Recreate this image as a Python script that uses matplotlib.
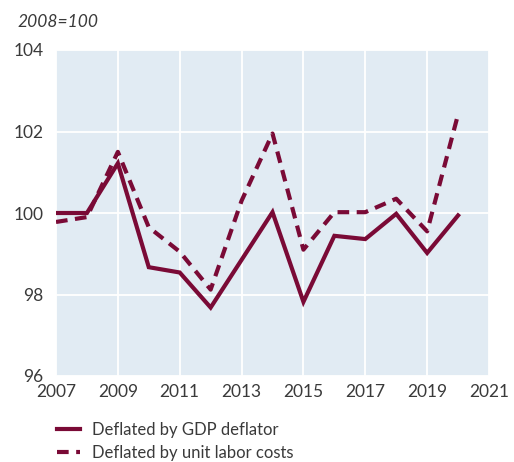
import matplotlib
matplotlib.use("Agg")
import matplotlib.pyplot as plt
import numpy as np

years = np.arange(2007, 2021)
gdp_deflator = [100.0, 100.0, 101.22, 98.67, 98.54, 97.68, 98.85, 100.02,
                97.82, 99.44, 99.36, 99.98, 99.02, 99.94]
unit_labor = [99.78, 99.9, 101.5, 99.65, 99.05, 98.12, 100.3, 101.95,
              99.1, 100.02, 100.02, 100.35, 99.55, 102.42]
x_ticks = list(range(2007, 2022, 2))
y_ticks = [96, 98, 100, 102, 104]

c_line = "#7a0a36"
c_bg = "#e1ebf3"

plt.rcParams['font.family'] = ['Lato', 'DejaVu Sans']

fig = plt.figure(figsize=(5.14, 4.62), dpi=100)
ax = fig.add_axes([56 / 514, 1 - 376 / 462, (489 - 56) / 514, (376 - 50) / 462])
ax.set_facecolor(c_bg)

ax.plot(years, gdp_deflator, color=c_line, lw=3.0, solid_joinstyle="miter",
        label="Deflated by GDP deflator")
ax.plot(years, unit_labor, color=c_line, lw=3.0, dashes=(2.8, 1.8),
        label="Deflated by unit labor costs")

ax.set_xlim(2007, 2021)
ax.set_ylim(96, 104)
ax.set_xticks(x_ticks)
ax.set_yticks(y_ticks)
ax.grid(True, color="white", lw=1.3)
ax.set_axisbelow(True)
for s in ax.spines.values():
    s.set_visible(False)
ax.tick_params(length=0, labelsize=12.5, colors="#3a3a3a", pad=6)
ax.tick_params(axis="y", pad=9)

fig.text(17 / 514, 1 - 22 / 462, "2008=100", fontsize=12.5, style="italic",
         color="#3a3a3a", va="center", ha="left")

ax.legend(loc="upper left", bbox_to_anchor=(57 / 514, 1 - 422 / 462),
          bbox_transform=fig.transFigure, frameon=False, borderpad=0,
          borderaxespad=0, fontsize=12, handlelength=1.4, handletextpad=0.7,
          labelspacing=0.4, labelcolor="#3a3a3a")

fig.savefig("out.png", dpi=100)
